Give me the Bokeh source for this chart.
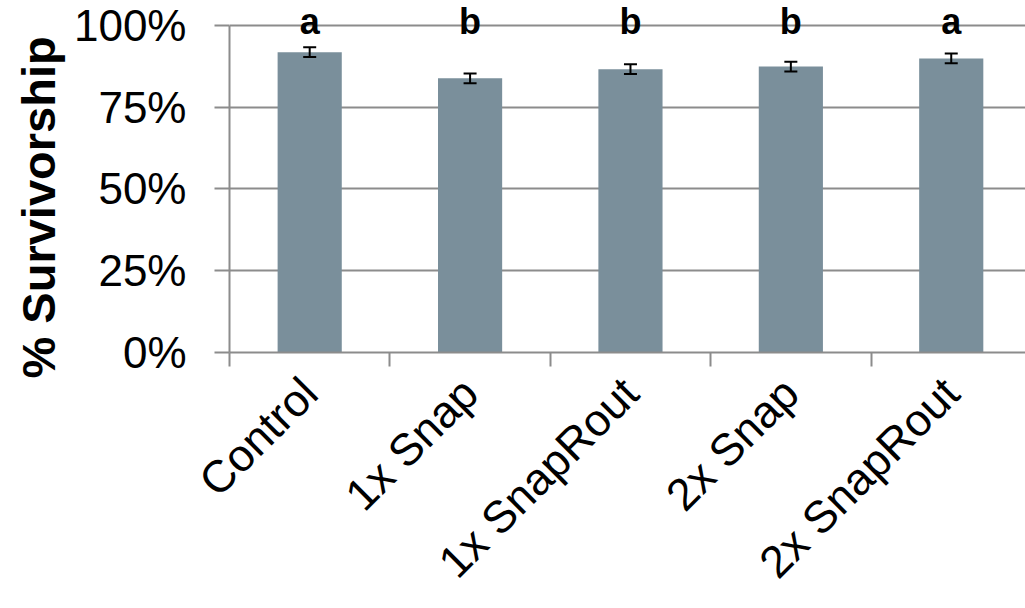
import math
from bokeh.plotting import figure
from bokeh.models import (Range1d, FixedTicker, NumeralTickFormatter, ColumnDataSource,
                          Whisker, TeeHead, LabelSet, Title)
from bokeh.core.properties import value
from bokeh.embed import file_html
from bokeh.resources import INLINE

# ---- data ----
categories = ["Control", "1x Snap", "1x SnapRout", "2x Snap", "2x SnapRout"]
survival = [0.918, 0.838, 0.866, 0.874, 0.899]
errors = [0.015, 0.015, 0.015, 0.015, 0.015]
letters = ["a", "b", "b", "b", "a"]
y_ticks = [0, 0.25, 0.5, 0.75, 1.0]

FONT = "Liberation Sans"
GRID = "#8c8c8c"
BAR = "#7a8f9b"

n = len(categories)
xs = [i + 0.5 for i in range(n)]
src = ColumnDataSource(dict(
    x=xs, top=survival,
    upper=[v + e for v, e in zip(survival, errors)],
    lower=[v - e for v, e in zip(survival, errors)],
    letter=letters,
    ly=[1.0] * n,
))

p = figure(width=1025, height=608, x_range=Range1d(0, 4.963), y_range=Range1d(0, 1.076),
           min_border_left=229, min_border_top=0, min_border_bottom=255, min_border_right=0,
           outline_line_color=None, toolbar_location=None, output_backend="svg")

p.vbar(x="x", top="top", bottom=0, width=0.4, source=src, fill_color=BAR, line_color=None)

w = Whisker(base="x", upper="upper", lower="lower", source=src, level="overlay",
            line_color="black", line_width=2,
            upper_head=TeeHead(size=13, line_color="black", line_width=2),
            lower_head=TeeHead(size=13, line_color="black", line_width=2))
p.add_layout(w)

labels = LabelSet(x="x", y="ly", text="letter", source=src, y_offset=-9,
                  text_align="center", text_baseline="alphabetic",
                  text_font=value(FONT), text_font_size=value("36px"),
                  text_font_style=value("bold"), text_color="black")
p.add_layout(labels)

# grid
p.xgrid.visible = False
p.ygrid.ticker = FixedTicker(ticks=y_ticks)
p.ygrid.grid_line_color = GRID
p.ygrid.grid_line_width = 2

# y axis
ya = p.yaxis[0]
ya.bounds = (0, 1.0)
ya.ticker = FixedTicker(ticks=y_ticks, minor_ticks=[])
ya.formatter = NumeralTickFormatter(format="0%")
ya.axis_line_color = GRID
ya.axis_line_width = 2
ya.major_tick_line_color = GRID
ya.major_tick_line_width = 2
ya.major_tick_out = 15
ya.major_tick_in = 0
ya.minor_tick_line_color = None
ya.major_label_standoff = 28
ya.major_label_text_font = FONT
ya.major_label_text_font_size = "44px"
ya.major_label_text_color = "black"

ytitle = Title(text="% Survivorship", align="left", offset=-26, standoff=8,
               vertical_align="top",
               text_font=FONT, text_font_size="47px", text_font_style="bold",
               text_color="black")
p.add_layout(ytitle, "left")

# x axis
xa = p.xaxis[0]
xa.ticker = FixedTicker(ticks=xs, minor_ticks=[float(i) for i in range(n + 1)])
xa.major_label_overrides = {x: c for x, c in zip(xs, categories)}
xa.major_tick_line_color = None
xa.major_tick_out = 0
xa.major_tick_in = 0
xa.minor_tick_line_color = GRID
xa.minor_tick_line_width = 2
xa.minor_tick_out = 14
xa.minor_tick_in = 0
xa.axis_line_color = GRID
xa.axis_line_width = 2
xa.major_label_orientation = math.pi / 4
xa.major_label_standoff = 19
xa.major_label_text_font = FONT
xa.major_label_text_font_size = "45px"
xa.major_label_text_color = "black"

open("out.html", "w").write(file_html(p, INLINE))
